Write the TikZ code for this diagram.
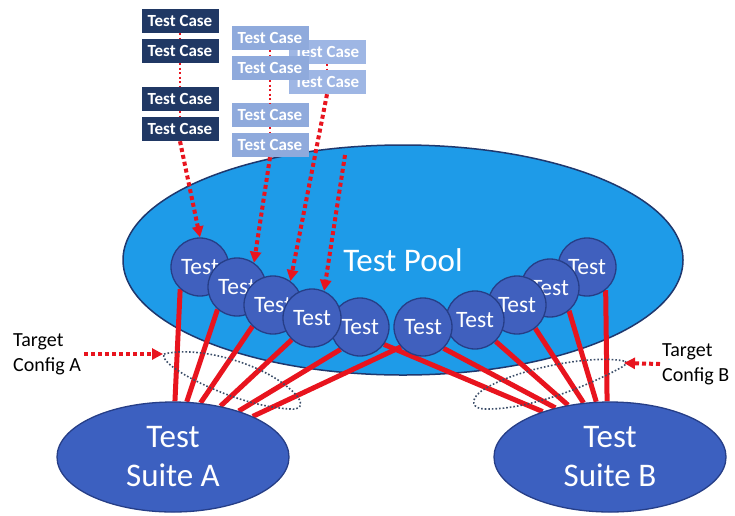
\documentclass[tikz,border=0pt]{standalone}
\usepackage{fontspec}
\setmainfont{Carlito}
\usetikzlibrary{shapes.geometric,arrows.meta,calc}

\definecolor{poolblue}{RGB}{30,155,232}
\definecolor{navyline}{RGB}{31,56,110}
\definecolor{testblue}{RGB}{64,96,190}
\definecolor{testedge}{RGB}{38,62,135}
\definecolor{suiteblue}{RGB}{60,96,192}
\definecolor{wirered}{RGB}{232,20,30}
\definecolor{casedark}{RGB}{32,56,100}
\definecolor{caselight}{RGB}{143,170,220}
\definecolor{caselighter}{RGB}{158,182,228}
\definecolor{loopgray}{RGB}{60,78,105}

\pgfdeclarelayer{poollayer}
\pgfdeclarelayer{wirelayer}
\pgfsetlayers{poollayer,wirelayer,main}

\tikzset{
  pool/.style={ellipse, draw=navyline, line width=1.5pt, fill=poolblue,
    minimum width=560pt, minimum height=230pt, inner sep=0pt, text=white,
    font=\fontsize{33}{39}\selectfont},
  testnode/.style={circle, draw=testedge, line width=1.3pt, fill=testblue,
    minimum size=58pt, inner sep=0pt, text=white,
    font=\fontsize{23.5}{28}\selectfont},
  suite/.style={ellipse, draw=testedge, line width=1.3pt, fill=suiteblue,
    minimum width=232pt, minimum height=110pt, inner sep=0pt, text=white,
    align=center, font=\fontsize{33}{39}\selectfont},
  casebox/.style={rectangle, minimum width=77pt, minimum height=24pt,
    inner sep=0pt, text=white, font=\bfseries\fontsize{17}{20}\selectfont},
  wire/.style={draw=wirered, line width=5pt},
  feed/.style={draw=wirered, line width=4pt, dash pattern=on 4pt off 3pt,
    -{Triangle[length=11pt,width=11pt]}},
  caselink/.style={draw=wirered, line width=2pt, dash pattern=on 2pt off 2.5pt},
  cfgloop/.style={draw=loopgray, line width=1.6pt, dash pattern=on 1.6pt off 2pt},
  cfglabel/.style={anchor=west, align=left, inner sep=0pt,
    font=\fontsize{20}{25}\selectfont},
}

\begin{document}
\begin{tikzpicture}[x=1pt,y=-1pt]
\useasboundingbox (0,0) rectangle (735,515);

% pool of tests
\begin{pgfonlayer}{poollayer}
  \fill[white] (0,0) rectangle (735,515);
  \node[pool] (pool) at (403,260) {Test Pool};
\end{pgfonlayer}

% tests on the right arc, then the middle, then the left arc
\node[testnode] (c10) at (587,267) {Test};
\node[testnode] (c9)  at (550,288) {Test};
\node[testnode] (c8)  at (517,305) {Test};
\node[testnode] (c7)  at (475,320) {Test};
\node[testnode] (c6)  at (423,327) {Test};
\node[testnode] (c5)  at (360,327) {Test};
\node[testnode] (c1)  at (200,267) {Test};
\node[testnode] (c2)  at (237,287) {Test};
\node[testnode] (c3)  at (273,305) {Test};
\node[testnode] (c4)  at (312,318) {Test};

% suites
\node[suite] (sa) at (173,457) {Test\\Suite A};
\node[suite] (sb) at (610,457) {Test\\Suite B};

% test case stacks
\node[casebox, fill=caselighter] (r1) at (327,52) {Test Case};
\node[casebox, fill=caselighter] (r2) at (327,82) {Test Case};
\node[casebox, fill=caselight] (l1) at (270,38) {Test Case};
\node[casebox, fill=caselight] (l2) at (270,68) {Test Case};
\node[casebox, fill=caselight] (l3) at (270,115) {Test Case};
\node[casebox, fill=caselight] (l4) at (270,145) {Test Case};
\node[casebox, fill=casedark] (d1) at (180,21) {Test Case};
\node[casebox, fill=casedark] (d2) at (180,51) {Test Case};
\node[casebox, fill=casedark] (d3) at (180,99) {Test Case};
\node[casebox, fill=casedark] (d4) at (180,129) {Test Case};

\draw[caselink] (d1.south) -- (d2.north);
\draw[caselink] (d2.south) -- (d3.north);
\draw[caselink] (d3.south) -- (d4.north);
\draw[caselink] (l1.south) -- (l2.north);
\draw[caselink] (l2.south) -- (l3.north);
\draw[caselink] (l3.south) -- (l4.north);
\draw[caselink] (r1.south) -- (r2.north);

% test cases feeding tests
\coordinate (feedstart) at (345,155);
\draw[feed] (d4.south) -- (c1.north);
\draw[feed] (l4.south) -- (c2.55);
\draw[feed] (r2.south) -- (c3.54);
\draw[feed] (feedstart) -- (c4.66);

% tests wired to the suites
\begin{pgfonlayer}{wirelayer}
  \draw[wire] (c1.228) -- (sa.88);
  \draw[wire] (c2.229) -- (sa.76);
  \draw[wire] (c3.226) -- (sa.63);
  \draw[wire] (c4.227) -- (sa.47);
  \draw[wire] (c5.229) -- (sa.35);
  \draw[wire] (c6.222) -- (sa.27);
  \draw[wire] (c5.324) -- (sb.146);
  \draw[wire] (c6.314) -- (sb.138);
  \draw[wire] (c7.314) -- (sb.129);
  \draw[wire] (c8.308) -- (sb.116);
  \draw[wire] (c9.310) -- (sb.104);
  \draw[wire] (c10.309) -- (sb.93);
\end{pgfonlayer}

% target configurations
\coordinate (la) at (163,354);
\coordinate (lb) at (624,363);
\draw[cfgloop] (164,354) .. controls (200,345) and (270,365) .. (297,396)
  .. controls (304,405) and (300,410) .. (290,409)
  .. controls (255,407) and (215,392) .. (185,375)
  .. controls (172,367) and (162,360) .. cycle;
\draw[cfgloop] (624,361) .. controls (590,354) and (510,370) .. (480,392)
  .. controls (470,400) and (472,409) .. (485,409)
  .. controls (530,410) and (590,385) .. (622,367)
  .. controls (627,364) and (627,362) .. cycle;

\node[cfglabel] (tca) at (13,354) {Target\\Config A};
\node[cfglabel] (tcb) at (662,364) {Target\\Config B};
\draw[feed] ([xshift=3pt]tca.east) -- (la);
\draw[feed] ([xshift=-2pt]tcb.west) -- (lb);
\end{tikzpicture}
\end{document}
